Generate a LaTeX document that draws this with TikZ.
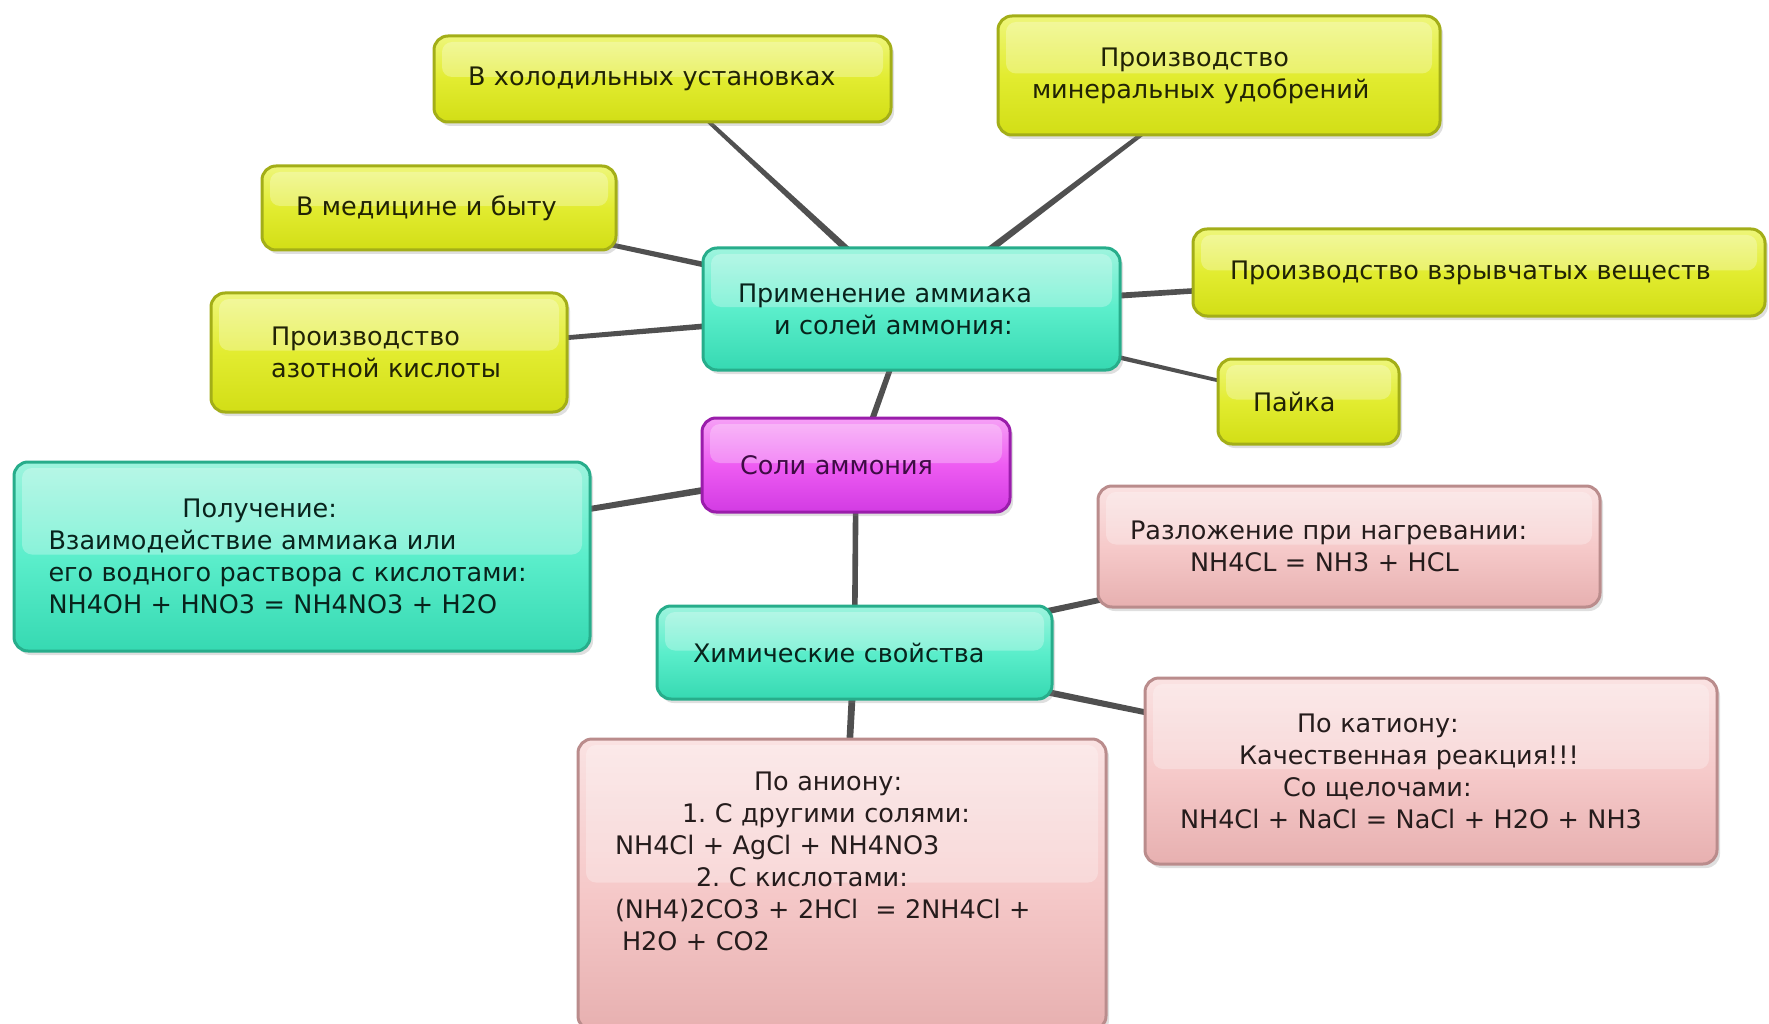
\documentclass[tikz,border=0pt]{standalone}
\usepackage{fontspec}
\setmainfont{DejaVu Sans}
\usetikzlibrary{calc,shadows}
\pgfdeclarelayer{bg}
\pgfsetlayers{bg,main}
\definecolor{yline}{HTML}{A3AE18}\definecolor{ytop}{HTML}{EEF67A}\definecolor{ymid}{HTML}{E2EC30}\definecolor{ybot}{HTML}{D2DE16}
\definecolor{tline}{HTML}{27AD8B}\definecolor{ttop}{HTML}{9EF4DE}\definecolor{tmid}{HTML}{5BEECB}\definecolor{tbot}{HTML}{36D9B2}
\definecolor{mline}{HTML}{9A1DAB}\definecolor{mtop}{HTML}{F6A0F6}\definecolor{mmid}{HTML}{EE5CF2}\definecolor{mbot}{HTML}{D23BE3}
\definecolor{pline}{HTML}{BA8C8C}\definecolor{ptop}{HTML}{FAE2E2}\definecolor{pmid}{HTML}{F6CACA}\definecolor{pbot}{HTML}{E7B0B0}
\definecolor{linkc}{HTML}{505050}
\newcommand\tapered[4]{\fill[linkc] ($(#1)!#3!90:(#2)$) -- ($(#1)!#3!-90:(#2)$) -- ($(#2)!#4!90:(#1)$) -- ($(#2)!#4!-90:(#1)$) -- cycle;}
\tikzset{
  box/.style={rounded corners=14pt, line width=3pt, align=left, inner ysep=0pt,
    font=\fontsize{25.5}{32}\selectfont\frenchspacing,
    drop shadow={opacity=0.25, shadow xshift=3pt, shadow yshift=-4pt},
    path picture={\fill[white,opacity=0.28,rounded corners=10pt]
      ([xshift=8pt,yshift=-6pt]path picture bounding box.north west) rectangle
      ([xshift=-8pt,yshift=2pt]path picture bounding box.east);}},
  ybox/.style={box, draw=yline, top color=ytop, bottom color=ybot, middle color=ymid, text=black!80!yline},
  tbox/.style={box, draw=tline, top color=ttop, bottom color=tbot, middle color=tmid, text=black!80!tline},
  mbox/.style={box, draw=mline, top color=mtop, bottom color=mbot, middle color=mmid, text=black!60!mline},
  pbox/.style={box, draw=pline, top color=ptop, bottom color=pbot, middle color=pmid, text=black!80!pline},
}
\begin{document}
\begin{tikzpicture}[x=1pt,y=-1pt]
\useasboundingbox (0,0) rectangle (1769,1024);
% yellow boxes
\node[ybox, minimum width=457pt, minimum height=86pt, inner xsep=34pt, text width=389pt] (cold) at (662.5,79) {В холодильных установках};
\node[ybox, minimum width=442pt, minimum height=119pt, inner xsep=34pt, text width=374pt] (fert) at (1219,75.5) {\hspace*{68pt}Производство\\минеральных удобрений};
\node[ybox, minimum width=354pt, minimum height=84pt, inner xsep=34pt, text width=286pt] (med) at (439,208) {В медицине и быту};
\node[ybox, minimum width=572pt, minimum height=87pt, inner xsep=37pt, text width=498pt] (expl) at (1479,272.5) {Производство взрывчатых веществ};
\node[ybox, minimum width=356pt, minimum height=119pt, inner xsep=60pt, text width=236pt] (nitric) at (389,352.5) {Производство\\азотной кислоты};
\node[ybox, minimum width=181pt, minimum height=85pt, inner xsep=35pt, text width=111pt] (solder) at (1308.5,401.5) {Пайка};
% teal and magenta
\node[tbox, minimum width=417pt, minimum height=122pt, inner xsep=35pt, text width=347pt] (app) at (911.5,309) {Применение аммиака\\\hspace*{36pt}и солей аммония:};
\node[mbox, minimum width=308pt, minimum height=94pt, inner xsep=38pt, text width=232pt] (salts) at (856,465) {Соли аммония};
\node[tbox, minimum width=576pt, minimum height=189pt, inner xsep=34.5pt, text width=507pt] (obtain) at (302,556.5) {\hspace*{134pt}Получение:\\Взаимодействие аммиака или\\его водного раствора с кислотами:\\NH4OH + HNO3 = NH4NO3 + H2O};
\node[tbox, minimum width=395pt, minimum height=93pt, inner xsep=36pt, text width=323pt] (chem) at (854.5,652.5) {Химические свойства};
% pink
\node[pbox, minimum width=502pt, minimum height=121pt, inner xsep=32pt, text width=438pt] (decomp) at (1349,546.5) {Разложение при нагревании:\\\hspace*{60pt}NH4CL = NH3 + HCL};
\node[pbox, minimum width=572pt, minimum height=186pt, inner xsep=35pt, text width=502pt] (cation) at (1431,771) {\hspace*{117pt}По катиону:\\\hspace*{59pt}Качественная реакция!!!\\\hspace*{103pt}Со щелочами:\\NH4Cl + NaCl = NaCl + H2O + NH3};
\node[pbox, minimum width=528pt, minimum height=291pt, inner xsep=37pt, text width=454pt] (anion) at (842,884.5) {\hspace*{139pt}По аниону:\\\hspace*{67pt}1. С другими солями:\\NH4Cl + AgCl + NH4NO3\\\hspace*{81pt}2. С кислотами:\\(NH4)2CO3 + 2HCl \ = 2NH4Cl +\\\hspace*{7pt}H2O + CO2\rule[-47pt]{0pt}{0pt}};
% connectors
\begin{pgfonlayer}{bg}
\tapered{cold}{app}{1.5pt}{4pt}
\tapered{fert}{app}{1.5pt}{4pt}
\tapered{med}{app}{1.8pt}{3.5pt}
\tapered{nitric}{app}{1.8pt}{3.5pt}
\tapered{expl}{app}{2pt}{3.5pt}
\tapered{solder}{app}{1.5pt}{3pt}
\tapered{app}{salts}{2.5pt}{3.2pt}
\tapered{obtain}{salts}{2pt}{3.8pt}
\tapered{chem}{salts}{2.8pt}{2.8pt}
\tapered{decomp}{chem}{2pt}{3.8pt}
\tapered{cation}{chem}{2pt}{3.8pt}
\tapered{anion}{chem}{3pt}{3.5pt}
\end{pgfonlayer}
\end{tikzpicture}
\end{document}
